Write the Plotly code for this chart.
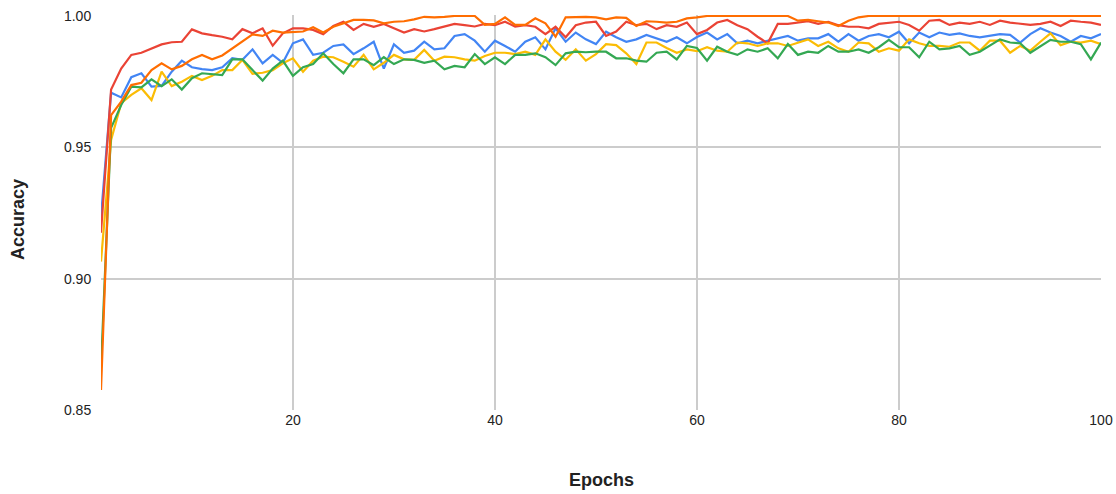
import plotly.graph_objects as go

epochs = list(range(1, 101))

blue = [0.9235, 0.9708, 0.969, 0.9767, 0.9782, 0.9731, 0.9734, 0.9788, 0.983, 0.9805,
        0.9798, 0.9794, 0.9805, 0.9839, 0.9833, 0.9873, 0.982, 0.9852, 0.9822, 0.9896,
        0.9911, 0.9852, 0.986, 0.9886, 0.9892, 0.9855, 0.9877, 0.9902, 0.980, 0.9892,
        0.986, 0.9868, 0.9902, 0.9873, 0.9877, 0.9924, 0.9931, 0.9906, 0.9864, 0.9906,
        0.9886, 0.9864, 0.9902, 0.9919, 0.9873, 0.9953, 0.9902, 0.9937, 0.9911, 0.9893,
        0.994, 0.9919, 0.9902, 0.9911, 0.9928, 0.9915, 0.9902, 0.9919, 0.9896, 0.992,
        0.9937, 0.9911, 0.9931, 0.9896, 0.9906, 0.9896, 0.9906, 0.9915, 0.9924, 0.9906,
        0.9915, 0.9915, 0.9931, 0.9902, 0.9931, 0.9906, 0.9924, 0.9931, 0.9919, 0.994,
        0.9896, 0.9937, 0.9919, 0.9937, 0.9928, 0.9934, 0.9924, 0.9919, 0.9924, 0.9931,
        0.9928, 0.9899, 0.9931, 0.9953, 0.9937, 0.9924, 0.9902, 0.9924, 0.9915, 0.9931]

red = [0.9175, 0.972, 0.980, 0.9852, 0.986, 0.9877, 0.9892, 0.990, 0.9902, 0.9949,
       0.9934, 0.9927, 0.9921, 0.9911, 0.995, 0.9934, 0.9953, 0.9887, 0.9934, 0.9953,
       0.9953, 0.9947, 0.9931, 0.9962, 0.9978, 0.9947, 0.997, 0.9959, 0.997, 0.9953,
       0.9937, 0.995, 0.9941, 0.995, 0.9959, 0.997, 0.9965, 0.996, 0.997, 0.9965,
       0.9978, 0.996, 0.9965, 0.9959, 0.9931, 0.9959, 0.9919, 0.9965, 0.9975, 0.9978,
       0.9924, 0.9941, 0.9978, 0.9965, 0.997, 0.995, 0.9965, 0.9959, 0.9975, 0.9931,
       0.9947, 0.9975, 0.9985, 0.9965, 0.995, 0.9921, 0.9896, 0.997, 0.997, 0.9975,
       0.998, 0.997, 0.9978, 0.9965, 0.9959, 0.9959, 0.9953, 0.997, 0.9975, 0.9978,
       0.9966, 0.9944, 0.9982, 0.9985, 0.9966, 0.9975, 0.997, 0.9978, 0.9966, 0.9982,
       0.9975, 0.997, 0.9966, 0.997, 0.9978, 0.9962, 0.9982, 0.9978, 0.9975, 0.9966]

yellow = [0.9065, 0.9528, 0.9668, 0.970, 0.9725, 0.968, 0.9788, 0.9733, 0.975, 0.9772,
          0.9756, 0.9772, 0.9794, 0.9794, 0.9833, 0.978, 0.9784, 0.9794, 0.982, 0.9839,
          0.9788, 0.983, 0.9845, 0.9843, 0.9826, 0.9807, 0.9852, 0.9797, 0.9822, 0.9852,
          0.9835, 0.9833, 0.9871, 0.983, 0.9845, 0.9843, 0.9835, 0.983, 0.9848, 0.986,
          0.986, 0.9855, 0.9864, 0.9852, 0.9911, 0.9864, 0.9833, 0.9873, 0.983, 0.9855,
          0.9893, 0.9889, 0.9858, 0.9817, 0.9899, 0.9899, 0.9878, 0.986, 0.9873, 0.9866,
          0.9881, 0.9868, 0.9864, 0.9899, 0.9896, 0.9886, 0.9896, 0.9896, 0.9886, 0.9899,
          0.9911, 0.9886, 0.9902, 0.9877, 0.9864, 0.9899, 0.9896, 0.9864, 0.9877, 0.9868,
          0.9911, 0.9896, 0.9886, 0.9886, 0.9883, 0.9899, 0.9899, 0.9868, 0.9906, 0.9906,
          0.986, 0.9886, 0.9868, 0.9902, 0.9934, 0.9889, 0.9902, 0.9899, 0.9906, 0.9893]

green = [0.866, 0.9574, 0.9661, 0.9731, 0.9728, 0.9759, 0.9733, 0.9759, 0.972, 0.9763,
         0.9782, 0.9779, 0.9775, 0.9835, 0.9835, 0.9794, 0.9754, 0.980, 0.983, 0.9772,
         0.9805, 0.9817, 0.9858, 0.9817, 0.9782, 0.9835, 0.9835, 0.9813, 0.9843, 0.9817,
         0.9835, 0.9833, 0.9822, 0.983, 0.9797, 0.981, 0.9805, 0.9855, 0.9817, 0.9843,
         0.9817, 0.9852, 0.9852, 0.9858, 0.9843, 0.9813, 0.9858, 0.9864, 0.9862, 0.9864,
         0.9864, 0.9839, 0.9839, 0.983, 0.9826, 0.986, 0.9864, 0.9835, 0.9886, 0.9878,
         0.983, 0.9883, 0.9864, 0.9852, 0.9873, 0.9864, 0.9877, 0.9839, 0.9893, 0.9852,
         0.9864, 0.986, 0.9886, 0.9864, 0.9864, 0.9873, 0.986, 0.9881, 0.9909, 0.9881,
         0.9881, 0.9843, 0.9902, 0.9873, 0.9877, 0.9886, 0.9852, 0.9864, 0.9889, 0.9911,
         0.9899, 0.9896, 0.986, 0.9886, 0.9909, 0.9902, 0.9902, 0.9893, 0.9835, 0.9899]

orange = [0.8576, 0.9623, 0.9674, 0.9737, 0.9746, 0.9794, 0.982, 0.9797, 0.981, 0.9835,
          0.9852, 0.9835, 0.985, 0.9877, 0.9906, 0.993, 0.9924, 0.9944, 0.9937, 0.994,
          0.9941, 0.9957, 0.9937, 0.9959, 0.9972, 0.9985, 0.9985, 0.9983, 0.9972, 0.9978,
          0.998, 0.9987, 0.9997, 0.9995, 0.9997, 1.0, 1.0, 1.0, 0.9966, 0.997,
          0.9995, 0.9966, 0.9966, 0.9991, 0.9972, 0.9921, 0.9995, 0.9997, 0.9997, 0.9995,
          0.9987, 0.9995, 0.9993, 0.9962, 0.998, 0.9978, 0.9975, 0.9978, 0.9991, 0.9995,
          1.0, 1.0, 1.0, 1.0, 1.0, 1.0, 1.0, 1.0, 1.0, 0.9982,
          0.9985, 0.998, 0.9975, 0.9962, 0.9982, 0.9995, 1.0, 1.0, 1.0, 1.0,
          1.0, 1.0, 1.0, 1.0, 1.0, 1.0, 1.0, 1.0, 1.0, 1.0,
          1.0, 1.0, 1.0, 1.0, 1.0, 1.0, 1.0, 1.0, 1.0, 1.0]

series = [
    ("Series 1", blue, "#4285F4"),
    ("Series 2", red, "#EA4335"),
    ("Series 3", yellow, "#FBBC04"),
    ("Series 4", green, "#34A853"),
    ("Series 5", orange, "#FF6D01"),
]

x_ticks = [20, 40, 60, 80, 100]
y_ticks = [0.85, 0.90, 0.95, 1.00]
x_title = "Epochs"
y_title = "Accuracy"

fig = go.Figure()
for name, vals, color in series:
    fig.add_trace(go.Scatter(x=epochs, y=vals, mode="lines", name=name,
                             line=dict(color=color, width=2.2), showlegend=False))

font_family = "Liberation Sans, Arial, sans-serif"
txt = "#222222"
fig.update_layout(
    width=1116, height=494,
    margin=dict(l=101, r=15, t=15, b=84, autoexpand=False),
    paper_bgcolor="white", plot_bgcolor="white",
    hovermode=False,
    font=dict(family=font_family, size=14, color=txt),
    xaxis=dict(
        range=[1, 100], tickvals=x_ticks, showgrid=True, gridcolor="#cccccc", gridwidth=1.5,
        zeroline=False, showline=False, ticks="", automargin=False,
        tickfont=dict(size=14, color=txt),
    ),
    yaxis=dict(
        range=[0.85, 0.85 + 395 / 2626.7], tickvals=y_ticks, tickformat=".2f",
        showgrid=True, gridcolor="#cccccc", gridwidth=1.5,
        zeroline=False, showline=False, ticks="outside", ticklen=6,
        tickcolor="rgba(0,0,0,0)", automargin=False,
        tickfont=dict(size=14, color=txt),
    ),
    annotations=[
        dict(text="<b>" + x_title + "</b>", xref="paper", yref="paper",
             x=0.5, y=-70 / 395, xanchor="center", yanchor="middle",
             showarrow=False, font=dict(size=18, color=txt)),
        dict(text="<b>" + y_title + "</b>", xref="paper", yref="paper",
             x=-83 / 1000, y=190 / 395, xanchor="center", yanchor="middle",
             textangle=-90, showarrow=False, font=dict(size=18, color=txt)),
    ],
)

fig.write_html(
    "out.html",
    config={"displayModeBar": False},
    post_script="document.body.style.margin='0px';document.body.style.overflow='hidden';",
)
